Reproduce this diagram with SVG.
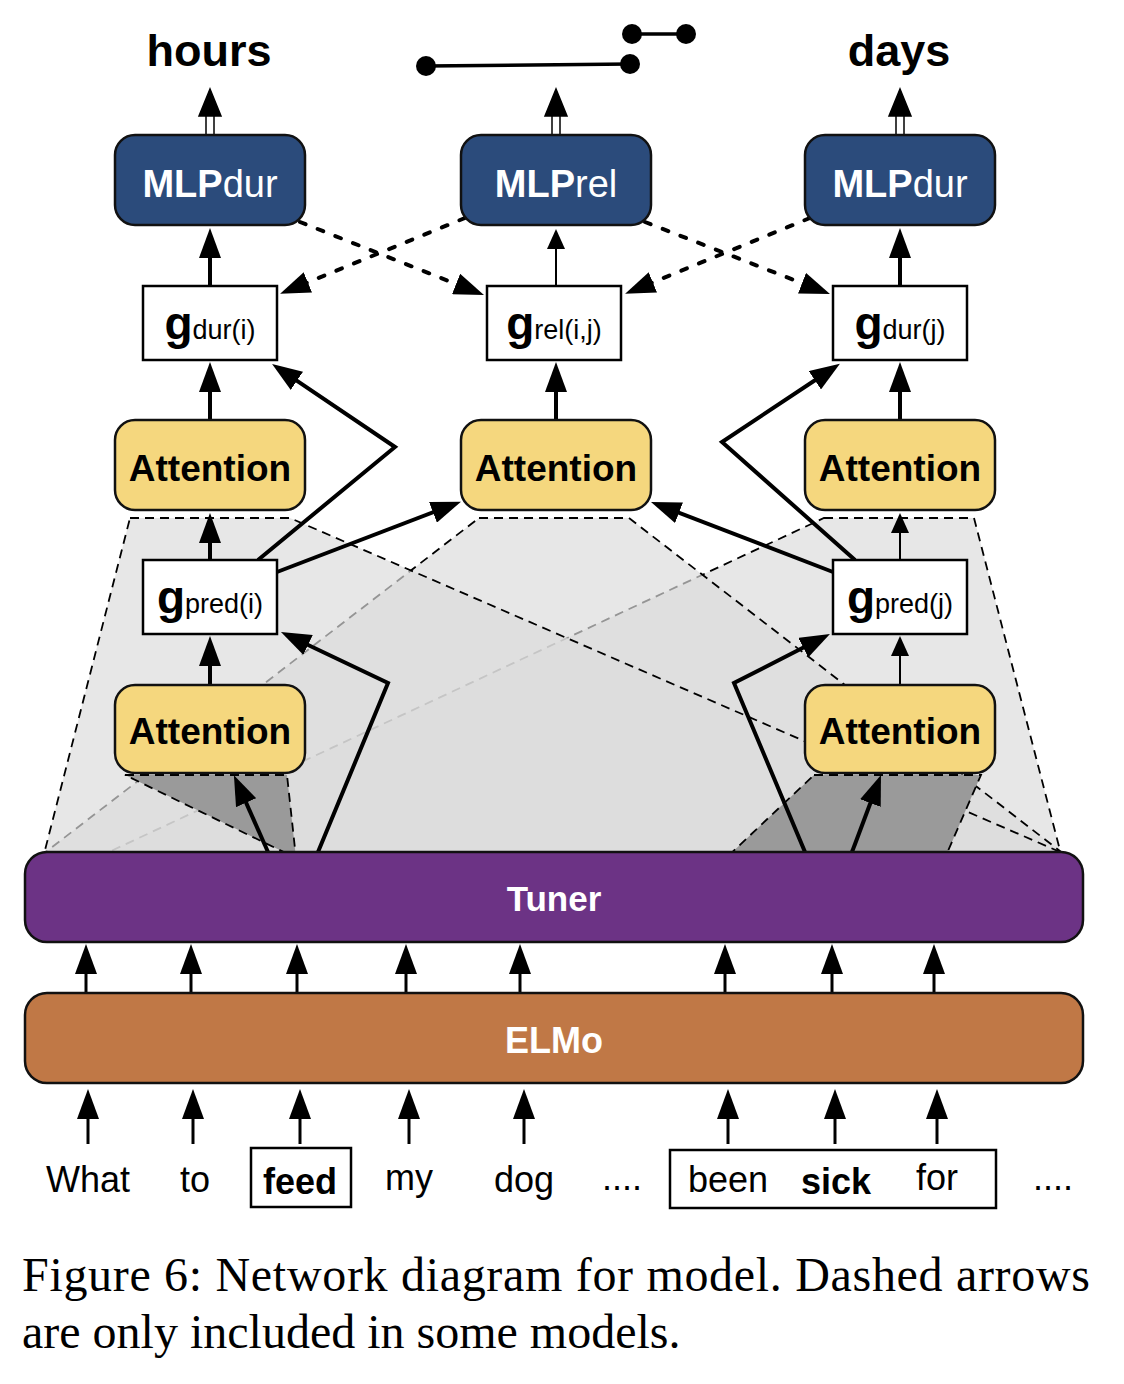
<svg xmlns="http://www.w3.org/2000/svg" width="1124" height="1384" viewBox="0 0 1124 1384">
<style>
.ln{stroke:#000;stroke-width:4;fill:none}
.th{stroke:#000;stroke-width:2;fill:none}
.md{stroke:#000;stroke-width:3;fill:none}
.dsh{stroke:#000;stroke-width:4;fill:none;stroke-dasharray:6 13;stroke-linecap:round}
.big{fill:#dcdcdc;fill-opacity:0.68;stroke:#000;stroke-width:1.8;stroke-dasharray:9 6}
.dark{fill:#9a9a9a;stroke:#000;stroke-width:1.8;stroke-dasharray:9 6}
.mlp{fill:#2b4b7b;stroke:#111;stroke-width:2.5}
.att{fill:#f5d77e;stroke:#111;stroke-width:2.5}
.gb{fill:#fff;stroke:#000;stroke-width:2.5}
.sans{font-family:"Liberation Sans",Arial,sans-serif}
.attt{font-family:"Liberation Sans",Arial,sans-serif;font-weight:bold;font-size:37px;text-anchor:middle}
.mlpt{font-family:"Liberation Sans",Arial,sans-serif;font-size:38px;text-anchor:middle;fill:#fff}
.gt{font-family:"Liberation Sans",Arial,sans-serif;text-anchor:middle}
.word{font-family:"Liberation Sans",Arial,sans-serif;font-size:36px;text-anchor:middle}
</style>
<defs>
<marker id="ah" viewBox="0 0 30 22" refX="15" refY="11" markerWidth="30" markerHeight="22" markerUnits="userSpaceOnUse" orient="auto"><path d="M0,0 L30,11 L0,22 z" fill="#000"/></marker>
<marker id="ahs" viewBox="0 0 20 18" refX="10" refY="9" markerWidth="20" markerHeight="18" markerUnits="userSpaceOnUse" orient="auto"><path d="M0,0 L20,9 L0,18 z" fill="#000"/></marker>
</defs>
<rect width="1124" height="1384" fill="#fff"/>

<g id="regions">
<polygon class="big" points="824,518 974,518 1062,858 96,858"/>
<polygon class="big" points="479,518 629,518 1069,858 38,858"/>
<polygon class="big" points="130,518 290,518 1074,858 43,858"/>
<polygon class="dark" points="125,775 287,775 296,858"/>
<polygon class="dark" points="814,775 981,775 945,858 726,858"/>
</g>

<g id="outputs">
<text class="sans" x="209" y="66" font-size="45" font-weight="bold" text-anchor="middle">hours</text>
<text class="sans" x="899" y="66" font-size="45" font-weight="bold" text-anchor="middle">days</text>
<g id="timeline">
<line x1="426" y1="66" x2="630" y2="64" stroke="#000" stroke-width="3.5"/>
<line x1="632" y1="34" x2="686" y2="34" stroke="#000" stroke-width="3.5"/>
<circle cx="426" cy="66" r="10"/>
<circle cx="630" cy="64" r="10"/>
<circle cx="632" cy="34" r="10"/>
<circle cx="686" cy="34" r="10"/>
</g>
</g>

<g id="connectors">
<g stroke="#000" stroke-width="1.5">
<rect x="206" y="114" width="8" height="22" fill="#fff"/>
<path d="M199,116 L221,116 L210,89 z" fill="#000"/>
<rect x="552" y="114" width="8" height="22" fill="#fff"/>
<path d="M545,116 L567,116 L556,89 z" fill="#000"/>
<rect x="896" y="114" width="8" height="22" fill="#fff"/>
<path d="M889,116 L911,116 L900,89 z" fill="#000"/>
</g>
<line class="ln" x1="210" y1="286" x2="210" y2="243" marker-end="url(#ah)"/>
<line class="th" x1="556" y1="286" x2="556" y2="239" marker-end="url(#ahs)"/>
<line class="ln" x1="900" y1="286" x2="900" y2="243" marker-end="url(#ah)"/>
<line class="dsh" x1="300" y1="222" x2="470" y2="289.5" marker-end="url(#ah)"/>
<line class="dsh" x1="465" y1="218" x2="294" y2="288" marker-end="url(#ah)"/>
<line class="dsh" x1="645" y1="222" x2="816" y2="288.6" marker-end="url(#ah)"/>
<line class="dsh" x1="810" y1="218" x2="639" y2="288" marker-end="url(#ah)"/>
<line class="ln" x1="210" y1="420" x2="210" y2="377" marker-end="url(#ah)"/>
<line class="ln" x1="556" y1="420" x2="556" y2="377" marker-end="url(#ah)"/>
<line class="ln" x1="900" y1="420" x2="900" y2="377" marker-end="url(#ah)"/>
<line class="ln" x1="210" y1="560" x2="210" y2="528" marker-end="url(#ah)"/>
<line class="th" x1="900" y1="560" x2="900" y2="523" marker-end="url(#ahs)"/>
<polyline class="ln" points="258,560 395,447 284.5,372.4" marker-end="url(#ah)"/>
<line class="ln" x1="277" y1="572" x2="447" y2="507" marker-end="url(#ah)"/>
<polyline class="ln" points="855,560 722,442 827.4,372" marker-end="url(#ah)"/>
<line class="ln" x1="833" y1="572" x2="665" y2="507.4" marker-end="url(#ah)"/>
<line class="ln" x1="210" y1="685" x2="210" y2="651" marker-end="url(#ah)"/>
<line class="th" x1="900" y1="685" x2="900" y2="646" marker-end="url(#ahs)"/>
<line class="ln" x1="268" y1="852" x2="240" y2="789" marker-end="url(#ah)"/>
<polyline class="ln" points="318,852 388,683 294.5,638.5" marker-end="url(#ah)"/>
<line class="ln" x1="852" y1="852" x2="875.7" y2="789" marker-end="url(#ah)"/>
<polyline class="ln" points="805,852 734,683 816.6,640.8" marker-end="url(#ah)"/>
<g>
<line class="md" x1="86" y1="993" x2="86" y2="959" marker-end="url(#ah)"/>
<line class="md" x1="191" y1="993" x2="191" y2="959" marker-end="url(#ah)"/>
<line class="md" x1="297" y1="993" x2="297" y2="959" marker-end="url(#ah)"/>
<line class="md" x1="406" y1="993" x2="406" y2="959" marker-end="url(#ah)"/>
<line class="md" x1="520" y1="993" x2="520" y2="959" marker-end="url(#ah)"/>
<line class="md" x1="725" y1="993" x2="725" y2="959" marker-end="url(#ah)"/>
<line class="md" x1="832" y1="993" x2="832" y2="959" marker-end="url(#ah)"/>
<line class="md" x1="934" y1="993" x2="934" y2="959" marker-end="url(#ah)"/>
</g>
<g>
<line class="md" x1="88" y1="1144" x2="88" y2="1104" marker-end="url(#ah)"/>
<line class="md" x1="193" y1="1144" x2="193" y2="1104" marker-end="url(#ah)"/>
<line class="md" x1="300" y1="1144" x2="300" y2="1104" marker-end="url(#ah)"/>
<line class="md" x1="409" y1="1144" x2="409" y2="1104" marker-end="url(#ah)"/>
<line class="md" x1="524" y1="1144" x2="524" y2="1104" marker-end="url(#ah)"/>
<line class="md" x1="728" y1="1144" x2="728" y2="1104" marker-end="url(#ah)"/>
<line class="md" x1="835" y1="1144" x2="835" y2="1104" marker-end="url(#ah)"/>
<line class="md" x1="937" y1="1144" x2="937" y2="1104" marker-end="url(#ah)"/>
</g>
</g>

<g id="mlp-dur-i">
<rect class="mlp" x="115" y="135" width="190" height="90" rx="20"/>
<text class="mlpt" x="210" y="197"><tspan font-weight="bold">MLP</tspan>dur</text>
</g>
<g id="mlp-rel">
<rect class="mlp" x="461" y="135" width="190" height="90" rx="20"/>
<text class="mlpt" x="556" y="197"><tspan font-weight="bold">MLP</tspan>rel</text>
</g>
<g id="mlp-dur-j">
<rect class="mlp" x="805" y="135" width="190" height="90" rx="20"/>
<text class="mlpt" x="900" y="197"><tspan font-weight="bold">MLP</tspan>dur</text>
</g>

<g id="g-dur-i">
<rect class="gb" x="143" y="286" width="134" height="74"/>
<text class="gt" x="210" y="339"><tspan font-size="46" font-weight="bold">g</tspan><tspan font-size="27">dur(i)</tspan></text>
</g>
<g id="g-rel">
<rect class="gb" x="487" y="286" width="134" height="74"/>
<text class="gt" x="554" y="339"><tspan font-size="46" font-weight="bold">g</tspan><tspan font-size="27">rel(i,j)</tspan></text>
</g>
<g id="g-dur-j">
<rect class="gb" x="833" y="286" width="134" height="74"/>
<text class="gt" x="900" y="339"><tspan font-size="46" font-weight="bold">g</tspan><tspan font-size="27">dur(j)</tspan></text>
</g>

<g id="attention-top-i">
<rect class="att" x="115" y="420" width="190" height="90" rx="20"/>
<text class="attt" x="210" y="481">Attention</text>
</g>
<g id="attention-top-ij">
<rect class="att" x="461" y="420" width="190" height="90" rx="20"/>
<text class="attt" x="556" y="481">Attention</text>
</g>
<g id="attention-top-j">
<rect class="att" x="805" y="420" width="190" height="90" rx="20"/>
<text class="attt" x="900" y="481">Attention</text>
</g>

<g id="g-pred-i">
<rect class="gb" x="143" y="560" width="134" height="74"/>
<text class="gt" x="210" y="613"><tspan font-size="46" font-weight="bold">g</tspan><tspan font-size="27">pred(i)</tspan></text>
</g>
<g id="g-pred-j">
<rect class="gb" x="833" y="560" width="134" height="74"/>
<text class="gt" x="900" y="613"><tspan font-size="46" font-weight="bold">g</tspan><tspan font-size="27">pred(j)</tspan></text>
</g>

<g id="attention-bottom-i">
<rect class="att" x="115" y="685" width="190" height="88" rx="20"/>
<text class="attt" x="210" y="744">Attention</text>
</g>
<g id="attention-bottom-j">
<rect class="att" x="805" y="685" width="190" height="88" rx="20"/>
<text class="attt" x="900" y="744">Attention</text>
</g>

<g id="tuner">
<rect x="25" y="852" width="1058" height="90" rx="22" fill="#6c3385" stroke="#111" stroke-width="2.5"/>
<text class="sans" x="554" y="911" font-size="35" font-weight="bold" fill="#fff" text-anchor="middle">Tuner</text>
</g>
<g id="elmo">
<rect x="25" y="993" width="1058" height="90" rx="22" fill="#c07846" stroke="#111" stroke-width="2.5"/>
<text class="sans" x="554" y="1053" font-size="36" font-weight="bold" fill="#fff" text-anchor="middle">ELMo</text>
</g>

<g id="words">
<rect x="251" y="1148" width="100" height="59" fill="none" stroke="#000" stroke-width="2.5"/>
<rect x="670" y="1150" width="326" height="58" fill="none" stroke="#000" stroke-width="2.5"/>
<text class="word" x="88" y="1192">What</text>
<text class="word" x="195" y="1192">to</text>
<text class="word" x="300" y="1194" font-weight="bold">feed</text>
<text class="word" x="409" y="1190">my</text>
<text class="word" x="524" y="1192">dog</text>
<text class="word" x="622" y="1190">....</text>
<text class="word" x="728" y="1192">been</text>
<text class="word" x="836" y="1194" font-weight="bold">sick</text>
<text class="word" x="937" y="1190">for</text>
<text class="word" x="1053" y="1190">....</text>
</g>

<g id="caption" font-family="'Liberation Serif','Times New Roman',serif" font-size="48">
<text x="22" y="1291" textLength="1068" lengthAdjust="spacing">Figure 6: Network diagram for model. Dashed arrows</text>
<text x="22" y="1348">are only included in some models.</text>
</g>
</svg>
